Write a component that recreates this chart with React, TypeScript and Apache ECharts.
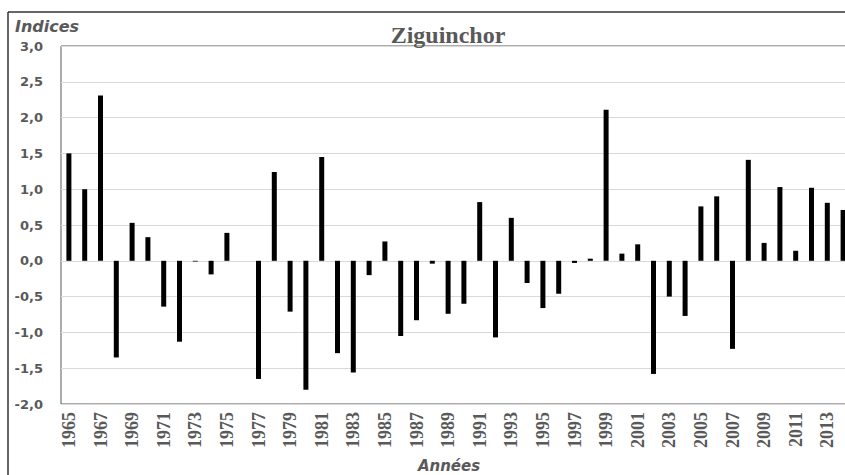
import React, { useEffect, useRef } from "react";
import * as echarts from "echarts";

const years: string[] = [];
for (let y = 1965; y <= 2014; y++) years.push(String(y));

const indices: number[] = [
  1.50, 1.00, 2.31, -1.35, 0.53, 0.33, -0.64, -1.13, -0.01, -0.19,
  0.39, 0.00, -1.65, 1.24, -0.71, -1.80, 1.45, -1.29, -1.56, -0.20,
  0.27, -1.05, -0.83, -0.04, -0.74, -0.60, 0.82, -1.07, 0.60, -0.31,
  -0.66, -0.46, -0.03, 0.03, 2.11, 0.10, 0.23, -1.58, -0.50, -0.77,
  0.76, 0.90, -1.23, 1.41, 0.25, 1.03, 0.14, 1.02, 0.81, 0.71,
];

const titleText = "Ziguinchor";
const yName = "Indices";
const xName = "Années";

export default function App() {
  const ref = useRef<HTMLDivElement>(null);
  useEffect(() => {
    if (!ref.current) return;
    const chart = echarts.init(ref.current, undefined, { renderer: "svg" });
    chart.setOption({
      animation: false,
      backgroundColor: "#ffffff",
      title: {
        text: titleText,
        left: 443,
        top: 18,
        textAlign: "center",
        textStyle: {
          fontFamily: "Liberation Serif",
          fontWeight: "bold",
          fontSize: 24,
          color: "#595959",
        },
      },
      graphic: [
        {
          type: "line",
          shape: { x1: 8, y1: 12, x2: 845, y2: 12 },
          style: { stroke: "#333333", lineWidth: 1.5 },
        },
        {
          type: "line",
          shape: { x1: 8, y1: 12, x2: 8, y2: 475 },
          style: { stroke: "#333333", lineWidth: 1.5 },
        },
        {
          type: "text",
          x: 15,
          y: 18,
          style: {
            text: yName,
            font: "italic bold 16px 'DejaVu Sans'",
            fill: "#595959",
          },
        },
        {
          type: "text",
          x: 449,
          y: 458,
          style: {
            text: xName,
            font: "italic bold 15px 'DejaVu Sans'",
            fill: "#595959",
            textAlign: "center",
          },
        },
      ],
      grid: {
        left: 61,
        top: 46,
        width: 790,
        height: 358,
        outerBoundsMode: "none",
        containLabel: false,
        show: true,
        borderColor: "#595959",
        borderWidth: 1,
      },
      xAxis: {
        type: "category",
        data: years,
        axisLine: { show: false },
        axisTick: { show: false },
        axisLabel: {
          interval: 1,
          rotate: 90,
          margin: 8,
          fontFamily: "Liberation Serif",
          fontWeight: "bold",
          fontSize: 18,
          color: "#595959",
        },
      },
      yAxis: {
        type: "value",
        min: -2,
        max: 3,
        interval: 0.5,
        axisLine: { show: false },
        axisTick: { show: false },
        splitLine: { lineStyle: { color: "#d9d9d9", width: 1 } },
        axisLabel: {
          margin: 18,
          fontFamily: "DejaVu Sans",
          fontWeight: "bold",
          fontSize: 13,
          color: "#595959",
          formatter: (v: number) => v.toFixed(1).replace(".", ","),
        },
      },
      series: [
        {
          type: "bar",
          data: indices,
          barWidth: 5,
          itemStyle: { color: "#000000" },
        },
      ],
    });
    return () => chart.dispose();
  }, []);
  return (
    <div
      ref={ref}
      style={{ position: "fixed", left: 0, top: 0, width: 845, height: 475 }}
    />
  );
}
